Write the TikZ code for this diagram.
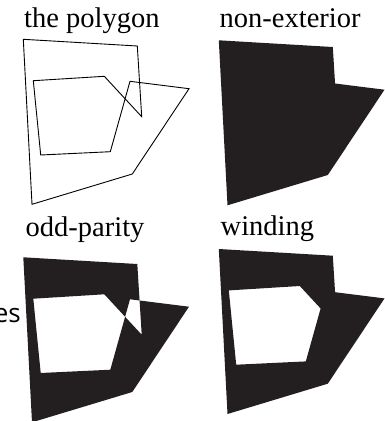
\documentclass[tikz,border=0pt]{standalone}
\usepackage{fontspec}
\setmainfont{Liberation Serif}
\newfontfamily\esfont{Open Sans}
\definecolor{ink}{RGB}{35,31,32}
\begin{document}
\begin{tikzpicture}[x=1pt,y=-1pt,
  lbl/.style={anchor=base west,inner sep=0pt,font=\fontsize{28.5}{31}\selectfont},
  outline/.style={draw=black,line width=0.9pt,line join=miter},
  solid fill/.style={fill=ink}]
\useasboundingbox (0,0) rectangle (385,421);
\node[anchor=base east,inner sep=0pt,font=\esfont\fontsize{26}{28}\selectfont] (es) at (21,322) {es};
% polygon vertices
\def\polypath#1#2{
  (#1+23.3,#2+39.3) -- (#1+137.3,#2+46) -- (#1+141.7,#2+116.7) -- (#1+104.3,#2+76.3)
  -- (#1+33.3,#2+80.7) -- (#1+40.7,#2+155) -- (#1+110.3,#2+151.7) -- (#1+130,#2+81.3)
  -- (#1+189,#2+88.7) -- (#1+132.3,#2+174) -- (#1+32,#2+204.3) -- cycle}
% the polygon
\draw[outline] \polypath{0}{0};
% non-exterior
\begin{scope}[shift={(195.5,1)}]
\coordinate (A) at (137.3,46);
\coordinate (B) at (141.7,116.7);
\coordinate (C) at (130,81.3);
\coordinate (D) at (189,88.7);
\fill[ink] (23.3,39.3) -- (A) -- (intersection of A--B and C--D) -- (D)
  -- (132.3,174) -- (32,204.3) -- cycle;
\end{scope}
% odd-parity
\fill[ink,even odd rule] \polypath{0}{218};
% winding
\fill[ink,nonzero rule] \polypath{195.5}{209.7};
% labels
\node[lbl] (t1) at (24,27) {the polygon};
\node[lbl] (t2) at (219.5,27) {non-exterior};
\node[lbl] (t3) at (25.5,236.5) {odd-parity};
\node[lbl] (t4) at (220.5,235.5) {winding};
\end{tikzpicture}
\end{document}
